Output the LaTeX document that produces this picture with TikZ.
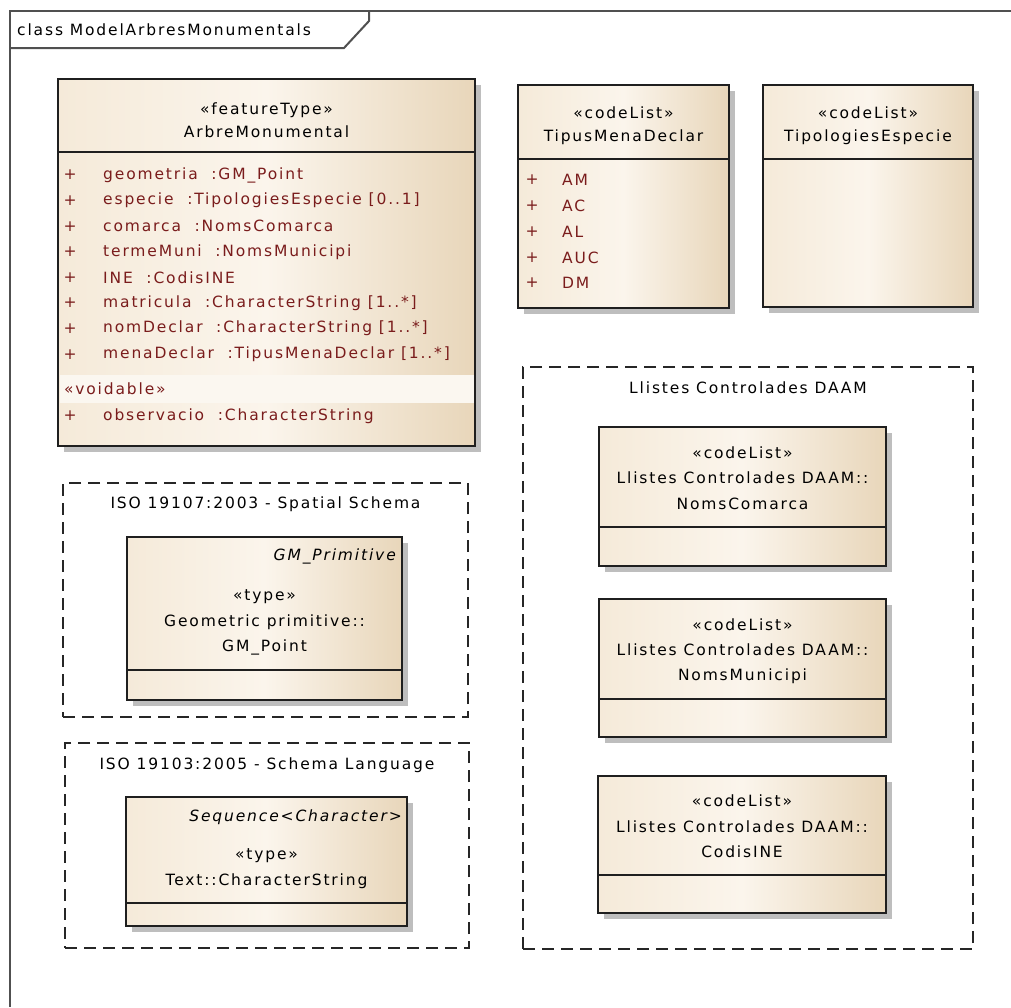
\documentclass[tikz,border=0pt]{standalone}
\usepackage{fontspec}
\newfontfamily\umlfont{DejaVu Sans}[LetterSpace=12]
\usetikzlibrary{shadows}
\definecolor{attr}{RGB}{122,28,28}
\definecolor{frm}{RGB}{80,80,80}
\definecolor{fillL}{RGB}{245,234,217}
\definecolor{fillM}{RGB}{251,245,236}
\definecolor{fillR}{RGB}{232,214,186}
\definecolor{shd}{RGB}{190,190,190}
\definecolor{band}{RGB}{251,247,240}
\begin{document}
\begin{tikzpicture}[x=1pt,y=-1pt,
  cls/.style={draw=black!88, line width=1.8pt, left color=fillL, right color=fillR, middle color=fillM,
    inner sep=0pt, outer sep=0pt,
    drop shadow={shadow xshift=6pt, shadow yshift=-6pt, fill=shd, opacity=1}},
  pkg/.style={draw=black!85, line width=1.8pt, dash pattern=on 12pt off 7pt, inner sep=0pt, outer sep=0pt},
  txt/.style={font=\umlfont\fontsize{15.5}{18}\selectfont, inner sep=0pt, text=black},
  itxt/.style={txt, font=\umlfont\fontsize{15.5}{18}\selectfont\itshape, anchor=east},
  att/.style={txt, text=attr, anchor=west},
  plus/.style={txt, text=attr},
  sepline/.style={draw=black!88, line width=1.8pt}]
\useasboundingbox (0,0) rectangle (1011,1007);
\fill[white] (0,0) rectangle (1011,1007);

% outer frame
\draw[frm, line width=2.2pt] (1011,11) -- (10,11) -- (10,1007);
\draw[frm, line width=2pt] (10,48) -- (344,48) -- (369,21) -- (369,11);
\node[txt, anchor=west] (title) at (17,30) {class ModelArbresMonumentals};

% ArbreMonumental
\node[cls, minimum width=417pt, minimum height=367pt] (am) at (266.5,262.5) {};
\draw[sepline] (58,152) -- (475,152);
\fill[band] (59.5,375) rectangle (473.5,403);
\node[txt] (amst) at (266.5,110) {«featureType»};
\node[txt] (amnm) at (266.5,132) {ArbreMonumental};
\foreach \yy/\tt [count=\i] in {175/{geometria \ :GM\_Point},
  200.6/{especie \ :TipologiesEspecie [0..1]},
  226.2/{comarca \ :NomsComarca},
  251.8/{termeMuni \ :NomsMunicipi},
  277.4/{INE \ :CodisINE},
  303/{matricula \ :CharacterString [1..*]},
  328.6/{nomDeclar \ :CharacterString [1..*]},
  354.2/{menaDeclar \ :TipusMenaDeclar [1..*]}}{
  \node[plus] (ap\i) at (70,\yy) {+};
  \node[att] (aa\i) at (103,\yy) {\tt};
}
\node[att] (avoid) at (64,389) {«voidable»};
\node[plus] (apobs) at (70,416) {+};
\node[att] (aobs) at (103,416) {observacio \ :CharacterString};

% TipusMenaDeclar
\node[cls, minimum width=211pt, minimum height=223pt] (tmd) at (623.5,196.5) {};
\draw[sepline] (518,159) -- (729,159);
\node[txt] (tmdst) at (623.5,113) {«codeList»};
\node[txt] (tmdnm) at (623.5,137) {TipusMenaDeclar};
\foreach \yy/\tt [count=\i] in {180/AM,206/AC,232/AL,258/AUC,283/DM}{
  \node[plus] (tp\i) at (532,\yy) {+};
  \node[att] (ta\i) at (562,\yy) {\tt};
}

% TipologiesEspecie
\node[cls, minimum width=210pt, minimum height=222pt] (te) at (868,196) {};
\draw[sepline] (763,159) -- (973,159);
\node[txt] (test) at (868,113) {«codeList»};
\node[txt] (tenm) at (868,137) {TipologiesEspecie};

% ISO 19107 package
\node[pkg, minimum width=405pt, minimum height=234pt] (sp) at (265.5,600) {};
\node[txt] (sptitle) at (265.5,504) {ISO 19107:2003 - Spatial Schema};
\node[cls, minimum width=275pt, minimum height=163pt] (gm) at (264.5,618.5) {};
\draw[sepline] (127,670) -- (402,670);
\node[itxt] (gmpr) at (396,556) {GM\_Primitive};
\node[txt] (gmst) at (264.5,597) {«type»};
\node[txt] (gmn1) at (264.5,622) {Geometric primitive::};
\node[txt] (gmn2) at (264.5,647) {GM\_Point};

% ISO 19103 package
\node[pkg, minimum width=404pt, minimum height=205pt] (sl) at (267,845.5) {};
\node[txt] (sltitle) at (267,765) {ISO 19103:2005 - Schema Language};
\node[cls, minimum width=281pt, minimum height=129pt] (cs) at (266.5,861.5) {};
\draw[sepline] (126,903) -- (407,903);
\node[itxt] (csseq) at (402,817) {Sequence<Character>};
\node[txt] (csst) at (266.5,856) {«type»};
\node[txt] (csnm) at (266.5,881) {Text::CharacterString};

% DAAM package
\node[pkg, minimum width=450pt, minimum height=582pt] (daam) at (748,658) {};
\node[txt] (daamtitle) at (748,388) {Llistes Controlades DAAM};
\node[cls, minimum width=287pt, minimum height=139pt] (b1) at (742.5,496.5) {};
\draw[sepline] (599,527) -- (886,527);
\node[txt] (b1st) at (742.5,453) {«codeList»};
\node[txt] (b1n1) at (742.5,478) {Llistes Controlades DAAM::};
\node[txt] (b1n2) at (742.5,504) {NomsComarca};
\node[cls, minimum width=287pt, minimum height=138pt] (b2) at (742.5,668) {};
\draw[sepline] (599,699) -- (886,699);
\node[txt] (b2st) at (742.5,625) {«codeList»};
\node[txt] (b2n1) at (742.5,650) {Llistes Controlades DAAM::};
\node[txt] (b2n2) at (742.5,676) {NomsMunicipi};
\node[cls, minimum width=288pt, minimum height=137pt] (b3) at (742,844.5) {};
\draw[sepline] (598,875) -- (886,875);
\node[txt] (b3st) at (742,801) {«codeList»};
\node[txt] (b3n1) at (742,827) {Llistes Controlades DAAM::};
\node[txt] (b3n2) at (742,852) {CodisINE};
\end{tikzpicture}
\end{document}
